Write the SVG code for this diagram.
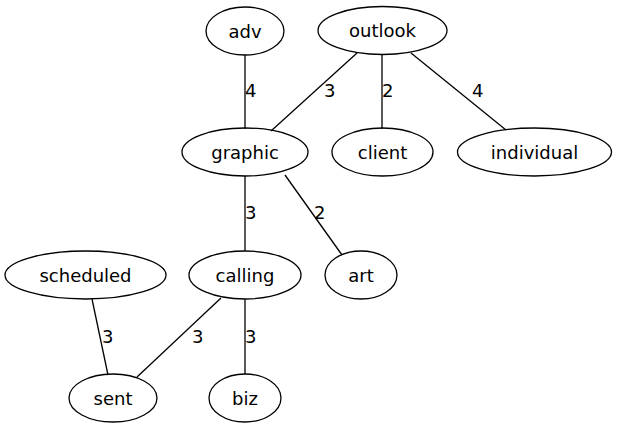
<svg xmlns="http://www.w3.org/2000/svg" width="617" height="429" viewBox="0 0 617 429">
<style>
ellipse{fill:none;stroke:#000;stroke-width:1.3}
line{stroke:#000;stroke-width:1.3}
text{font-family:"DejaVu Sans",sans-serif;font-size:18px;fill:#000}
.n{text-anchor:middle}
</style>
<rect width="617" height="429" fill="#fff"/>
<g id="edges">
<line x1="245" y1="55" x2="245" y2="129"/>
<line x1="357" y1="53" x2="271" y2="131"/>
<line x1="382" y1="54" x2="382" y2="129"/>
<line x1="411" y1="53" x2="506" y2="130"/>
<line x1="245" y1="176" x2="245" y2="251"/>
<line x1="285" y1="175" x2="342" y2="255"/>
<line x1="92" y1="299" x2="108" y2="375"/>
<line x1="221" y1="298" x2="137" y2="377"/>
<line x1="245" y1="299" x2="245" y2="374"/>
<text x="245" y="97">4</text>
<text x="324" y="97">3</text>
<text x="382" y="97">2</text>
<text x="472" y="97">4</text>
<text x="245" y="219">3</text>
<text x="314" y="219">2</text>
<text x="102" y="343">3</text>
<text x="192" y="343">3</text>
<text x="245" y="343">3</text>
</g>
<g id="adv"><ellipse cx="245" cy="31" rx="39" ry="24"/><text class="n" x="245" y="37.5">adv</text></g>
<g id="outlook"><ellipse cx="382.5" cy="30.5" rx="64.5" ry="24"/><text class="n" x="382.5" y="37">outlook</text></g>
<g id="graphic"><ellipse cx="245" cy="152" rx="63" ry="24"/><text class="n" x="245" y="158.5">graphic</text></g>
<g id="client"><ellipse cx="382.5" cy="152" rx="50.5" ry="24"/><text class="n" x="382.5" y="158.5">client</text></g>
<g id="individual"><ellipse cx="534.5" cy="152" rx="77" ry="24"/><text class="n" x="534.5" y="158.5">individual</text></g>
<g id="calling"><ellipse cx="245" cy="275" rx="56" ry="24"/><text class="n" x="245" y="281.5">calling</text></g>
<g id="art"><ellipse cx="361" cy="275" rx="36" ry="24"/><text class="n" x="361" y="281.5">art</text></g>
<g id="scheduled"><ellipse cx="85.5" cy="275" rx="80.5" ry="24"/><text class="n" x="85.5" y="281.5">scheduled</text></g>
<g id="sent"><ellipse cx="113" cy="398" rx="44" ry="24"/><text class="n" x="113" y="404.5">sent</text></g>
<g id="biz"><ellipse cx="245" cy="398" rx="36" ry="24"/><text class="n" x="245" y="404.5">biz</text></g>
</svg>
